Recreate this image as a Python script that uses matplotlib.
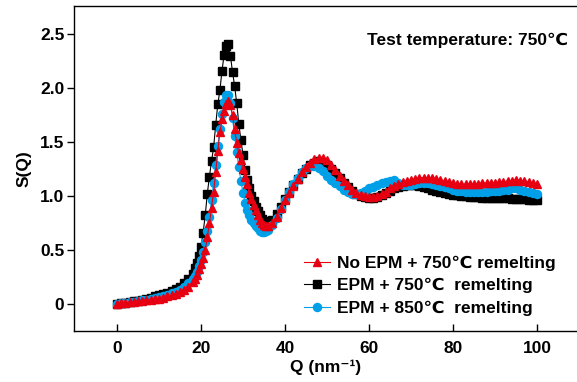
# S(Q) curves for three remelting conditions

import numpy as np
import matplotlib
matplotlib.use("Agg")
from matplotlib import pyplot as plt

plt.rcParams["font.family"] = ["Liberation Sans", "DejaVu Sans"]
plt.rcParams["font.weight"] = "bold"

# Q grid (nm^-1), finer around the main peak
q = [0, 1, 2, 3, 4, 5, 6, 7, 8, 9, 10, 11, 12, 13, 14, 15, 16, 17,
     18, 18.5, 19, 19.5, 20, 20.5, 21, 21.5, 22, 22.5, 23, 23.5, 24, 24.5,
     25, 25.5, 26, 26.5, 27, 27.5, 28, 28.5, 29, 29.5, 30, 30.5, 31, 31.5,
     32, 32.5, 33, 33.5, 34, 34.5, 35, 35.5, 36,
     37, 38, 39, 40, 41, 42, 43, 44, 45, 46, 47, 48, 49, 50,
     51, 52, 53, 54, 55, 56, 57, 58, 59, 60, 61, 62, 63, 64, 65, 66, 67, 68, 69, 70,
     71, 72, 73, 74, 75, 76, 77, 78, 79, 80, 81, 82, 83, 84, 85, 86, 87, 88, 89, 90,
     91, 92, 93, 94, 95, 96, 97, 98, 99, 100]

# No EPM + 750 C remelting
s_no_epm_750 = [0.00, 0.005, 0.01, 0.015, 0.02, 0.025, 0.03, 0.035, 0.04, 0.045, 0.05, 0.06, 0.07, 0.08, 0.095, 0.11, 0.13, 0.16,
                0.20, 0.23, 0.27, 0.32, 0.37, 0.43, 0.50, 0.62, 0.75, 0.89, 1.04, 1.22, 1.42, 1.59,
                1.71, 1.79, 1.85, 1.88, 1.84, 1.75, 1.62, 1.49, 1.40, 1.33, 1.25, 1.18, 1.11, 1.03,
                0.97, 0.92, 0.87, 0.82, 0.78, 0.75, 0.73, 0.72, 0.72,
                0.75, 0.81, 0.89, 0.96, 1.03, 1.09, 1.16, 1.22, 1.27, 1.31, 1.34, 1.35, 1.35, 1.33,
                1.29, 1.24, 1.19, 1.14, 1.10, 1.06, 1.03, 1.01, 1.00, 0.99, 0.99, 1.00, 1.02, 1.04, 1.07, 1.09, 1.11, 1.13, 1.14, 1.15,
                1.16, 1.17, 1.17, 1.17, 1.17, 1.16, 1.15, 1.14, 1.13, 1.12, 1.11, 1.11, 1.11, 1.11, 1.11, 1.11, 1.12, 1.12, 1.12, 1.12,
                1.13, 1.13, 1.14, 1.14, 1.15, 1.14, 1.14, 1.13, 1.12, 1.11]

# EPM + 750 C remelting
s_epm_750 = [0.00, 0.005, 0.01, 0.02, 0.025, 0.03, 0.04, 0.05, 0.06, 0.07, 0.08, 0.09, 0.10, 0.12, 0.14, 0.16, 0.19, 0.23,
             0.28, 0.33, 0.38, 0.44, 0.53, 0.66, 0.82, 1.02, 1.18, 1.32, 1.45, 1.66, 1.85, 1.98,
             2.16, 2.31, 2.39, 2.41, 2.30, 2.15, 2.02, 1.86, 1.67, 1.52, 1.38, 1.24, 1.15, 1.07,
             1.00, 0.95, 0.90, 0.86, 0.82, 0.79, 0.77, 0.76, 0.76,
             0.78, 0.83, 0.90, 0.97, 1.04, 1.10, 1.16, 1.21, 1.25, 1.29, 1.31, 1.32, 1.31, 1.29,
             1.25, 1.21, 1.17, 1.12, 1.08, 1.05, 1.02, 1.00, 0.99, 0.98, 0.98, 0.99, 1.01, 1.03, 1.05, 1.07, 1.08, 1.09, 1.10, 1.10,
             1.10, 1.09, 1.08, 1.07, 1.06, 1.05, 1.04, 1.03, 1.02, 1.01, 1.01, 1.00, 1.00, 0.99, 0.99, 0.99, 0.98, 0.98, 0.98, 0.98,
             0.98, 0.98, 0.98, 0.97, 0.97, 0.97, 0.97, 0.96, 0.96, 0.96]

# EPM + 850 C remelting
s_epm_850 = [0.00, 0.005, 0.01, 0.015, 0.02, 0.03, 0.035, 0.04, 0.05, 0.06, 0.065, 0.075, 0.085, 0.10, 0.115, 0.13, 0.155, 0.19,
             0.23, 0.26, 0.30, 0.35, 0.41, 0.48, 0.57, 0.68, 0.81, 0.96, 1.12, 1.29, 1.46, 1.62,
             1.76, 1.87, 1.94, 1.94, 1.86, 1.72, 1.56, 1.41, 1.27, 1.14, 1.03, 0.94, 0.87, 0.82,
             0.78, 0.75, 0.72, 0.70, 0.68, 0.67, 0.67, 0.68, 0.69,
             0.73, 0.80, 0.88, 0.96, 1.04, 1.11, 1.17, 1.22, 1.26, 1.28, 1.28, 1.26, 1.23, 1.19,
             1.15, 1.12, 1.09, 1.06, 1.04, 1.02, 1.02, 1.03, 1.05, 1.07, 1.08, 1.10, 1.12, 1.13, 1.14, 1.15, 1.12, 1.10, 1.10, 1.10,
             1.11, 1.12, 1.12, 1.12, 1.11, 1.10, 1.09, 1.08, 1.07, 1.06, 1.05, 1.05, 1.04, 1.04, 1.04, 1.04, 1.04, 1.04, 1.05, 1.05,
             1.05, 1.06, 1.06, 1.07, 1.07, 1.06, 1.05, 1.04, 1.03, 1.02]

labels = ["No EPM + 750\u2103 remelting", "EPM + 750\u2103  remelting", "EPM + 850\u2103  remelting"]
red = "#E60012"
blue = "#00A0E9"

fig = plt.figure(figsize=(5.77, 3.82), dpi=100)
ax = fig.add_axes([74 / 577, 51 / 382, 503 / 577, 325 / 382])

# black first, then blue, red on top
l_black, = ax.plot(q, s_epm_750, color="black", marker="s", markersize=5.2, lw=0.8, zorder=2)
l_blue, = ax.plot(q, s_epm_850, color=blue, marker="o", markersize=5.8, lw=0.8, zorder=3)
l_red, = ax.plot(q, s_no_epm_750, color=red, marker="^", markersize=5.8, lw=0.8, zorder=4)

ax.set_xlim(-43 / 4.2, 460 / 4.2)
ax.set_ylim(-0.25, 2.76)
ax.set_xticks([0, 20, 40, 60, 80, 100])
ax.set_yticks([0, 0.5, 1.0, 1.5, 2.0, 2.5])
ax.set_yticklabels(["0", "0.5", "1.0", "1.5", "2.0", "2.5"])
ax.spines["right"].set_visible(False)
for sp in ["left", "bottom", "top"]:
    ax.spines[sp].set_linewidth(1.0)
ax.tick_params(axis="x", direction="in", length=5, width=1, pad=7, labelsize=12.5)
ax.tick_params(axis="y", direction="out", length=5, width=1, pad=2, labelsize=12.5)

ax.set_xlabel("Q (nm\u207b\u00b9)", fontsize=12.5, fontweight="bold", labelpad=3)
ax.set_ylabel("S(Q)", fontsize=12.5, fontweight="bold", labelpad=6)

ax.text(0.982, 0.893, "Test temperature: 750\u2103", transform=ax.transAxes,
        ha="right", va="center", fontsize=12.5, fontweight="bold")

leg = ax.legend([l_red, l_black, l_blue], labels, loc="upper left",
                bbox_to_anchor=(0.458, 0.232), frameon=False, fontsize=12.5,
                handlelength=1.5, handletextpad=0.4, labelspacing=0.42,
                borderpad=0, borderaxespad=0)

plt.savefig("out.png", dpi=100)
